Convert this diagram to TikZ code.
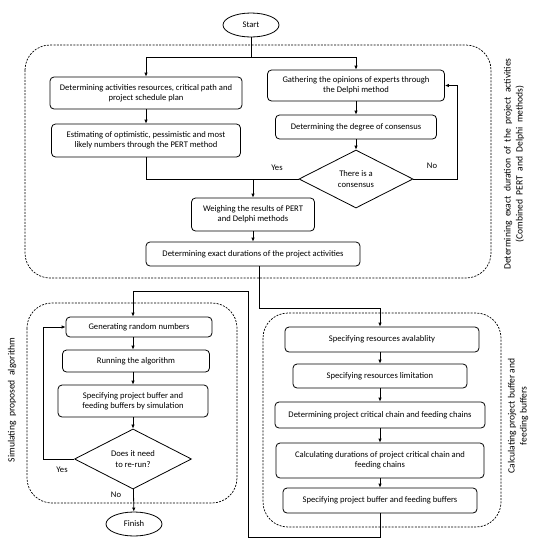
\documentclass[tikz,border=0pt]{standalone}
\usepackage{fontspec}
\setmainfont{Carlito}
\usetikzlibrary{shapes.geometric,arrows.meta}

\begin{document}
\begin{tikzpicture}[
            x=1pt, y=-1pt,
            every node/.style={
                font=\fontsize{8.6}{10.2}\selectfont
            },
            box/.style={
                draw=black,
                rounded corners=4pt,
                line width=0.8pt,
                align=center,
                inner sep=1pt
            },
            decision/.style={
                diamond,
                draw=black,
                line width=0.8pt,
                align=center,
                inner sep=0pt
            },
            terminal/.style={
                ellipse,
                draw=black,
                line width=0.8pt,
                minimum width=56pt,
                minimum height=24pt
            },
            group/.style={
                draw=black,
                dash pattern=on 2pt off 1.3pt,
                rounded corners=25pt,
                line width=0.7pt
            },
            side/.style={
                rotate=90,
                align=center,
                font=\fontsize{9.6}{12}\selectfont
            },
            link/.style={line width=0.8pt},
            arr/.style={line width=0.8pt, -{Latex[length=4pt,width=3.5pt]}}
        ]
        \useasboundingbox (0,0) rectangle (534,550);

        % Groups
        \draw[group] (25,45) rectangle (491,278);
        \draw[group] (27,303) rectangle (237,503);
        \draw[group] (263,313) rectangle (501,527);

        \node[side] (lbltop)   at (514,164) {Determining\ \ exact\ \ duration\ \ of\ \ the\ \ project\ \ activities\\(Combined\ \ PERT\ \ and\ \ Delphi\ \ methods)};
        \node[side] (lblleft)  at (12,400)  {Simulating\ \ proposed\ \ algorithm};
        \node[side] (lblright) at (518,416) {Calculating project buffer and\\feeding buffers};

        % Steps
        \node[terminal] (start) at (251,25) {Start};
        \node[box, minimum width=192pt, minimum height=32pt] (A) at (146,93)    {Determining activities resources, critical path and\\project schedule plan};
        \node[box, minimum width=177pt, minimum height=31pt] (B) at (356,85.5)  {Gathering the opinions of experts through\\the Delphi method};
        \node[box, minimum width=161pt, minimum height=24pt] (C) at (356,127)   {Determining the degree of consensus};
        \node[box, minimum width=189pt, minimum height=33pt] (D) at (146,140.5) {Estimating of optimistic, pessimistic and most\\likely numbers through the PERT method};
        \node[decision, minimum width=114pt, minimum height=58pt] (X) at (356,179) {There is a\\consensus};
        \node[box, minimum width=123pt, minimum height=33pt] (E) at (253,214.5) {Weighing the results of PERT\\and Delphi methods};
        \node[box, minimum width=214pt, minimum height=24pt] (F) at (253,254)   {Determining exact durations of the project activities};

        \node[box, minimum width=146pt, minimum height=20pt] (G) at (139,327)   {Generating random numbers};
        \node[box, minimum width=147pt, minimum height=22pt] (H) at (136,361)   {Running the algorithm};
        \node[box, minimum width=150pt, minimum height=32pt] (I) at (133,401)   {Specifying project buffer and\\feeding buffers by simulation};
        \node[decision, minimum width=117pt, minimum height=58pt] (J) at (133,459) {Does it need\\to re-run?};
        \node[terminal] (finish) at (134,524) {Finish};

        \node[box, minimum width=194pt, minimum height=25pt] (K) at (382,339.5) {Specifying resources avalablity};
        \node[box, minimum width=174pt, minimum height=24pt] (L) at (380,376)   {Specifying resources limitation};
        \node[box, minimum width=210pt, minimum height=26pt] (M) at (380,415)   {Determining project critical chain and feeding chains};
        \node[box, minimum width=208pt, minimum height=35pt] (N) at (380,460.5) {Calculating durations of project critical chain and\\feeding chains};
        \node[box, minimum width=194pt, minimum height=25pt] (O) at (380,500.5) {Specifying project buffer and feeding buffers};

        \node (yes1) at (277,168) {Yes};
        \node (no1)  at (432,166) {No};
        \node (yes2) at (62,470)  {Yes};
        \node (no2)  at (116,495) {No};

        % Connectors
        \coordinate (s1) at (251,57);
        \draw[link] (start) -- (s1);
        \draw[arr] (s1) -| (A.north);
        \draw[arr] (s1) -| (B.north);
        \draw[arr] (A) -- (D);
        \draw[arr] (B) -- (C);
        \draw[arr] (C) -- (X);
        \draw[link] (D.south) |- (X.west);
        \draw[arr] (X.west -| E.north) -- (E.north);
        \draw[arr] (X.east) -- ++(44,0) |- (B.east);
        \draw[arr] (E) -- (F);
        \draw[arr] ([xshift=6pt]F.south) -- ++(0,42) -| (K.north -| O);

        \draw[arr] (K.south -| O) -- (L.north -| O);
        \draw[arr] (L) -- (M);
        \draw[arr] (M) -- (N);
        \draw[arr] (N) -- (O);
        \draw[arr] (O.south) |- (248,537) |- (133,291) -- (G.north -| J);

        \draw[arr] (G.south -| J) -- (H.north -| J);
        \draw[arr] (H.south -| J) -- (I.north -| J);
        \draw[arr] (I) -- (J);
        \draw[arr] (J.west) -- ++(-31,0) |- (G.west);
        \draw[arr] (J) -- (finish);

        \end{tikzpicture}
\end{document}
